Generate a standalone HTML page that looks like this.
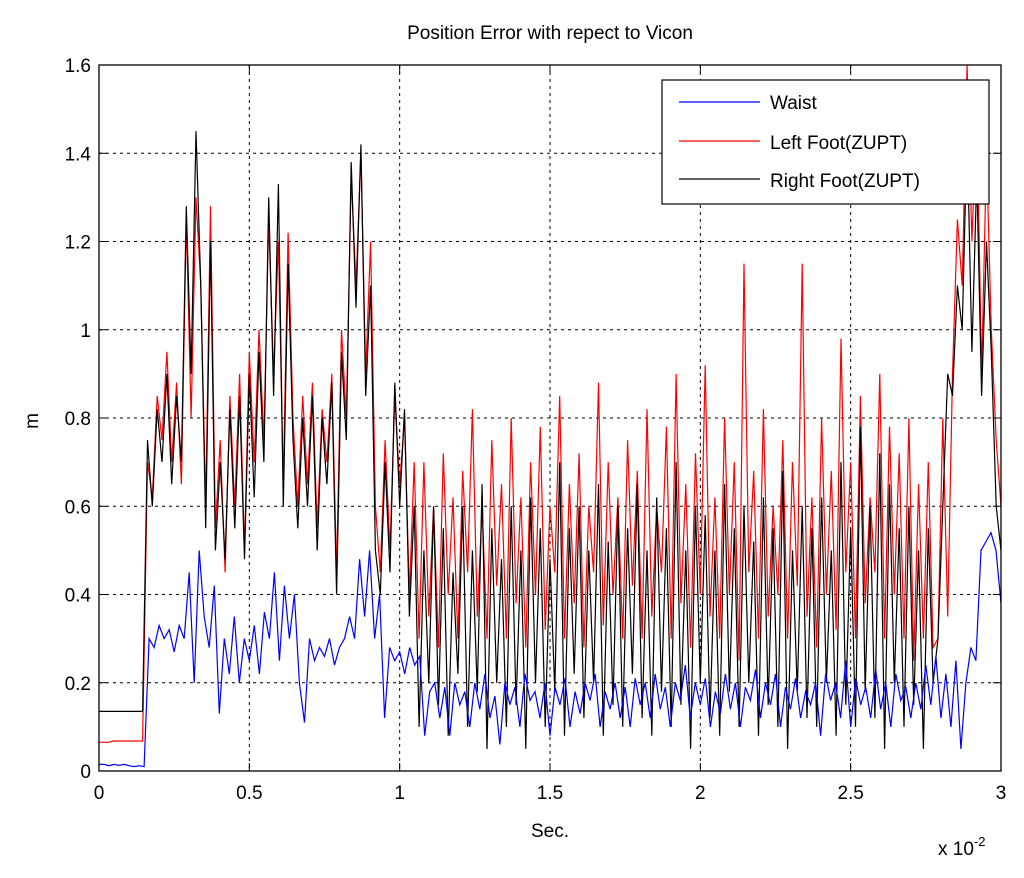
<!DOCTYPE html>
<html><head><meta charset="utf-8"><style>
body{margin:0;background:#fff;}
svg{display:block;font-family:"Liberation Sans",sans-serif;}
</style></head><body>
<svg id="chart" width="1024" height="878">
<rect x="0" y="0" width="1024" height="878" fill="#fff"/>
<text x="550" y="39" font-size="19" text-anchor="middle">Position Error with repect to Vicon</text>
<g id="grid"></g>
<g id="series"></g>
<rect x="99" y="65" width="902" height="706" fill="none" stroke="#000" stroke-width="1.3"/>
<g id="ticks"></g>
<text x="550" y="837" font-size="19" text-anchor="middle">Sec.</text>
<text x="38" y="421" font-size="19" text-anchor="middle" transform="rotate(-90 38 421)">m</text>
<text x="938" y="855" font-size="19">x 10<tspan dy="-9" font-size="13">-2</tspan></text>
<g>
<rect x="662" y="80" width="327" height="124" fill="#fff" stroke="#000" stroke-width="1.2"/>
<line x1="679" y1="102" x2="760" y2="102" stroke="#0000ff" stroke-width="1.3"/>
<text x="770" y="109" font-size="19">Waist</text>
<line x1="679" y1="141" x2="760" y2="141" stroke="#ff0000" stroke-width="1.3"/>
<text x="770" y="149" font-size="19">Left Foot(ZUPT)</text>
<line x1="679" y1="179" x2="760" y2="179" stroke="#000" stroke-width="1.3"/>
<text x="770" y="187" font-size="19">Right Foot(ZUPT)</text>
</g>
</svg>
<script>
const xTicks=[0,0.5,1,1.5,2,2.5,3];
const xTickLabels=["0","0.5","1","1.5","2","2.5","3"];
const yTicks=[0,0.2,0.4,0.6,0.8,1,1.2,1.4,1.6];
const yTickLabels=["0","0.2","0.4","0.6","0.8","1","1.2","1.4","1.6"];
const xMax=3;
const waist=[0.015,0.015,0.012,0.015,0.013,0.015,0.012,0.01,0.012,0.01,
0.3,0.28,0.33,0.3,0.32,0.27,0.33,
0.3,0.45,0.2,0.5,0.35,0.28,0.42,
0.13,0.3,0.22,0.35,0.2,0.3,0.25,0.33,0.22,0.36,
0.3,0.45,0.25,0.42,0.3,0.4,0.2,
0.11,0.3,0.25,0.28,0.26,0.3,0.24,0.28,0.3,
0.35,0.3,0.48,0.35,0.5,0.3,0.4,0.12,
0.28,0.25,0.27,0.22,0.28,0.24,0.26,0.08,
0.18,0.2,0.12,0.19,0.08,0.2,0.15,0.18,0.1,0.2,0.14,0.22,0.12,0.17,0.06,0.2,0.15,0.19,0.1,0.22,
0.16,0.18,0.12,0.2,0.08,0.19,0.15,0.21,0.1,0.18,0.13,0.2,0.16,0.22,0.1,0.18,0.14,0.2,0.12,0.19,
0.1,0.21,0.15,0.2,0.12,0.22,0.14,0.19,0.1,0.2,0.16,0.24,0.12,0.2,0.15,0.21,0.1,0.18,0.13,0.22,
0.14,0.2,0.1,0.19,0.16,0.23,0.12,0.2,0.15,0.22,0.1,0.19,0.14,0.21,0.12,0.18,0.15,0.2,0.08,0.22,
0.16,0.2,0.12,0.25,0.1,0.21,0.15,0.19,0.12,0.23,0.14,0.2,0.1,0.22,0.16,0.19,0.12,0.2,0.14,0.24,
0.15,0.26,0.12,0.22,0.1,0.25,0.05,0.2,0.28,0.25,0.5,0.52,0.54,0.5,0.38];
const leftFoot=[0.065,0.065,0.065,0.068,0.068,0.068,0.068,0.068,0.068,0.068,
0.7,0.62,0.85,0.75,0.95,0.7,0.88,
0.65,1.25,0.8,1.3,1.1,0.6,1.28,
0.55,0.75,0.45,0.85,0.6,0.9,0.5,0.95,0.7,1.0,
0.75,1.25,0.9,1.2,0.65,1.22,0.8,
0.6,0.85,0.65,0.88,0.55,0.82,0.7,0.9,0.45,
1.0,0.8,1.35,1.1,1.4,0.9,1.2,0.6,
0.45,0.75,0.5,0.85,0.65,0.8,0.4,0.7,
0.3,0.7,0.35,0.6,0.28,0.72,0.4,0.62,0.3,0.68,0.45,0.82,0.35,0.6,0.3,0.75,0.42,0.65,0.3,0.8,
0.38,0.62,0.28,0.7,0.4,0.78,0.32,0.6,0.45,0.85,0.3,0.65,0.38,0.72,0.28,0.6,0.45,0.88,0.33,0.7,
0.4,0.62,0.3,0.75,0.42,0.68,0.3,0.82,0.35,0.6,0.45,0.78,0.3,0.9,0.38,0.65,0.28,0.72,0.4,0.92,
0.35,0.62,0.3,0.8,0.4,0.7,0.25,1.15,0.45,0.68,0.3,0.82,0.35,0.6,0.4,0.75,0.3,0.7,0.42,1.15,
0.35,0.62,0.28,0.8,0.4,0.68,0.32,0.98,0.45,0.7,0.3,0.85,0.38,0.62,0.45,0.9,0.3,0.78,0.4,0.72,
0.3,0.8,0.25,0.65,0.3,0.7,0.28,0.3,0.8,0.35,0.9,1.25,1.1,1.6,1.2,1.5,0.9,1.4,1.0,0.75,0.6];
const rightFoot=[0.135,0.135,0.135,0.135,0.135,0.135,0.135,0.135,0.135,0.135,
0.75,0.6,0.82,0.7,0.9,0.65,0.85,
0.7,1.28,0.9,1.45,1.1,0.55,1.2,
0.5,0.7,0.48,0.82,0.55,0.85,0.48,0.9,0.62,0.95,
0.7,1.3,0.85,1.33,0.6,1.15,0.75,
0.55,0.8,0.6,0.85,0.5,0.8,0.65,0.88,0.4,
0.95,0.75,1.38,1.05,1.42,0.85,1.1,0.5,
0.4,0.7,0.45,0.88,0.6,0.82,0.35,0.6,
0.1,0.5,0.2,0.6,0.15,0.55,0.08,0.45,0.22,0.6,0.1,0.5,0.18,0.65,0.05,0.55,0.2,0.48,0.1,0.6,
0.15,0.5,0.05,0.62,0.2,0.55,0.1,0.48,0.18,0.7,0.08,0.55,0.22,0.6,0.12,0.5,0.2,0.65,0.08,0.52,
0.15,0.6,0.1,0.55,0.22,0.65,0.12,0.5,0.08,0.62,0.18,0.55,0.1,0.7,0.15,0.5,0.05,0.6,0.2,0.58,
0.12,0.5,0.08,0.65,0.18,0.55,0.1,0.6,0.2,0.52,0.08,0.62,0.15,0.55,0.1,0.68,0.05,0.5,0.18,0.6,
0.12,0.55,0.1,0.62,0.2,0.5,0.08,0.7,0.15,0.55,0.1,0.78,0.18,0.6,0.12,0.72,0.05,0.65,0.2,0.55,
0.1,0.6,0.15,0.5,0.05,0.55,0.2,0.3,0.6,0.9,0.85,1.1,1.0,1.45,0.95,1.35,0.85,1.2,0.95,0.6,0.5];
const X0=99,X1=1001,Y0=771,Y1=65;
const xs=v=>X0+(v/3)*(X1-X0);
const ys=v=>Y0-(v/1.6)*(Y0-Y1);
const NS="http://www.w3.org/2000/svg";
const grid=document.getElementById('grid'),ticks=document.getElementById('ticks'),ser=document.getElementById('series');
function mk(tag,attrs,parent){const e=document.createElementNS(NS,tag);for(const k in attrs)e.setAttribute(k,attrs[k]);parent.appendChild(e);return e;}
xTicks.forEach((v,i)=>{const x=xs(v);
 if(i>0&&i<xTicks.length-1){const g=mk('line',{x1:x,x2:x,y1:Y1,y2:Y0,stroke:'#000','stroke-dasharray':'3,4','stroke-width':1},grid);
 
 }
 mk('line',{x1:x,x2:x,y1:Y0,y2:Y0-8,stroke:'#000'},ticks);
 mk('line',{x1:x,x2:x,y1:Y1,y2:Y1+8,stroke:'#000'},ticks);
 const t=mk('text',{x:x,y:Y0+28,'font-size':19,'text-anchor':'middle'},ticks);t.textContent=xTickLabels[i];
 
 
});
yTicks.forEach((v,i)=>{const y=ys(v);
 if(i>0&&i<yTicks.length-1){const g=mk('line',{x1:X0,x2:X1,y1:y,y2:y,stroke:'#000','stroke-dasharray':'3,4','stroke-width':1},grid);
 
 }
 mk('line',{x1:X0,x2:X0+8,y1:y,y2:y,stroke:'#000'},ticks);
 mk('line',{x1:X1,x2:X1-8,y1:y,y2:y,stroke:'#000'},ticks);
 const t=mk('text',{x:X0-8,y:y+7,'font-size':19,'text-anchor':'end'},ticks);t.textContent=yTickLabels[i];
 
 
});
function line(arr,color,name){const st=xMax/(arr.length-1);
 const pts=arr.map((v,i)=>xs(i*st).toFixed(1)+','+ys(v).toFixed(1)).join(' ');
 const p=mk('polyline',{points:pts,fill:'none',stroke:color,'stroke-width':1.2},ser);
 
 }
line(leftFoot,'#ff0000','left-foot-line');
line(rightFoot,'#000000','right-foot-line');
line(waist,'#0000ff','waist-line');
</script>
</body></html>
